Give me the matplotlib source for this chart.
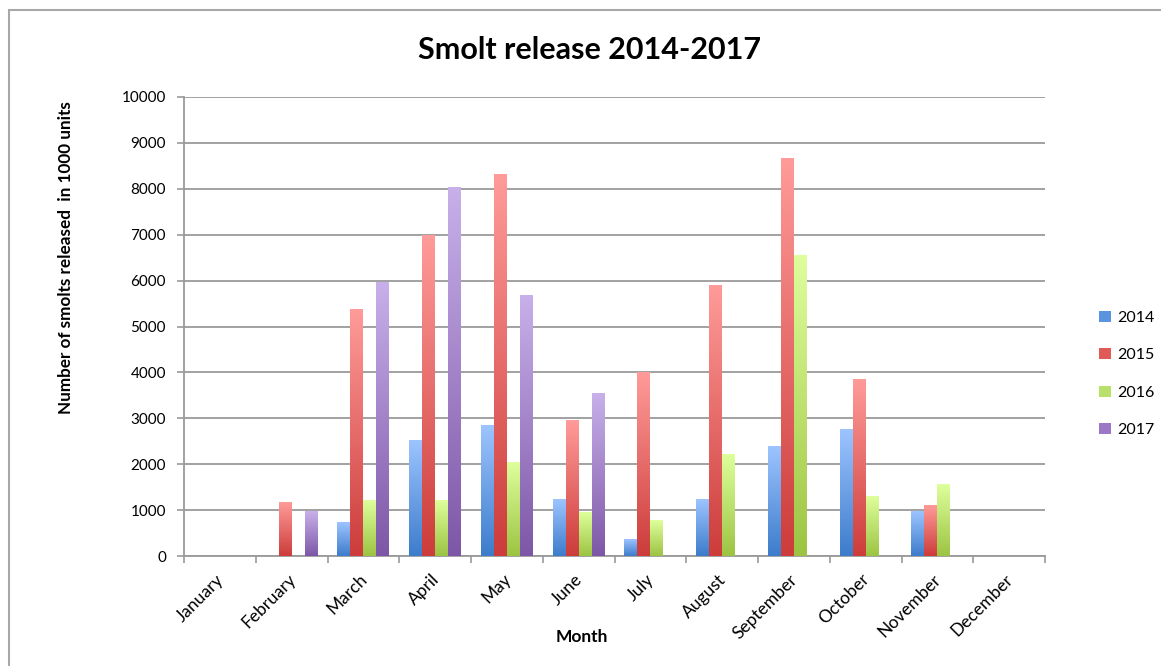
import numpy as np
import matplotlib
matplotlib.use("Agg")
import matplotlib.pyplot as plt
from matplotlib.colors import LinearSegmentedColormap
from matplotlib.patches import Rectangle

months = ["January", "February", "March", "April", "May", "June", "July",
          "August", "September", "October", "November", "December"]
years = ["2014", "2015", "2016", "2017"]
v2014 = [0, 0, 740, 2525, 2840, 1235, 360, 1235, 2390, 2750, 980, 0]
v2015 = [0, 1170, 5360, 6975, 8310, 2955, 4000, 5890, 8650, 3845, 1100, 0]
v2016 = [0, 0, 1220, 1220, 2040, 950, 770, 2205, 6545, 1290, 1560, 0]
v2017 = [0, 970, 5950, 8030, 5680, 3530, 0, 0, 0, 0, 0, 0]
series = [v2014, v2015, v2016, v2017]

top_colors = ["#9DC4FF", "#FF9B99", "#DEFF9C", "#C8B0EA"]
bot_colors = ["#3C7CCB", "#CC3C3A", "#9CC442", "#7D57A7"]
legend_colors = ["#5A93DE", "#E05A57", "#B8E06A", "#9A78C6"]

plt.rcParams['font.family'] = ['Lato', 'DejaVu Sans']

W, H = 1161, 666
fig = plt.figure(figsize=(W / 100, H / 100), dpi=100)
left, right, top, bottom = 184, 1045, 97, 556
ax = fig.add_axes([left / W, 1 - bottom / H, (right - left) / W, (bottom - top) / H])

x = np.arange(len(months))
bw = 0.181
for i, (vals, tc, bc) in enumerate(zip(series, top_colors, bot_colors)):
    offs = (i - 1.5) * bw
    bars = ax.bar(x + offs, vals, width=bw, color=bc, zorder=3, linewidth=0)
    cmap = LinearSegmentedColormap.from_list("g%d" % i, [bc, tc])
    grad = np.linspace(0, 1, 256).reshape(-1, 1)
    for b in bars:
        h = b.get_height()
        if h <= 0:
            continue
        bx = b.get_x()
        ax.imshow(grad, extent=[bx, bx + b.get_width(), 0, h], origin='lower',
                  cmap=cmap, aspect='auto', zorder=4, interpolation='bilinear')

ax.set_xlim(-0.5, 11.5)
ax.set_ylim(0, 10000)
ax.set_yticks(np.arange(0, 10001, 1000))
ax.set_yticklabels([str(v) for v in range(0, 10001, 1000)], fontsize=11)
ax.yaxis.grid(True, color='#9a9a9a', linewidth=1.3, zorder=1)
ax.set_axisbelow(True)

ax.set_xticks(np.arange(-0.5, 12, 1))
ax.set_xticklabels([])
ax.tick_params(axis='x', direction='out', length=5, color='#9a9a9a', width=1.2)
ax.tick_params(axis='y', direction='out', length=5, color='#9a9a9a', width=1.2, pad=8)
for i, m in enumerate(months):
    ax.text(i - 0.06, -330, m, rotation=45, ha='right', va='top',
            rotation_mode='anchor', fontsize=12.5)

for s in ['top', 'right']:
    ax.spines[s].set_visible(False)
for s in ['left', 'bottom']:
    ax.spines[s].set_color('#9a9a9a')
    ax.spines[s].set_linewidth(1.3)

fig.text(582 / W, 1 - 637 / H, "Month", ha='center', va='center',
         fontsize=12.5, fontweight='bold')
fig.text(66 / W, 1 - 258 / H, "Number of smolts released  in 1000 units",
         rotation=90, ha='center', va='center', fontsize=12.3, fontweight='bold')

fig.text(590 / W, 1 - 50 / H, "Smolt release 2014-2017", ha='center', va='center',
         fontsize=22, fontweight='bold')

handles = [Rectangle((0, 0), 1, 1, facecolor=c, edgecolor='none') for c in legend_colors]
fig.legend(handles, years, loc='center left', bbox_to_anchor=(1085 / W, 1 - 374 / H),
           frameon=False, fontsize=11.5, handlelength=0.7, handleheight=0.7,
           handletextpad=0.4, labelspacing=1.45)

fig.patches.append(Rectangle((9 / W, -0.2), 1.2, 1.2 - 10 / H, transform=fig.transFigure,
                             fill=False, edgecolor='#a8a8a8', linewidth=1.5))

fig.savefig("out.png", dpi=100)
